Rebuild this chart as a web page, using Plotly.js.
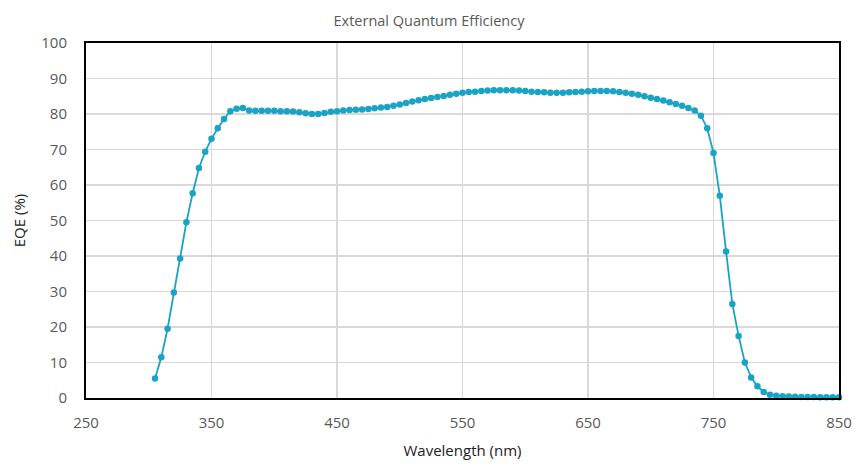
<!DOCTYPE html>
<html>
<head>
<meta charset="utf-8">
<script src="https://cdn.plot.ly/plotly-3.0.1.min.js"></script>
<style>html,body{margin:0;padding:0;background:#fff;}#chart{width:858px;height:466px;}</style>
</head>
<body>
<div id="chart"></div>
<script>
const wavelength = [305,310,315,320,325,330,335,340,345,350,355,360,365,370,375,380,385,390,395,400,405,410,415,420,425,430,435,440,445,450,455,460,465,470,475,480,485,490,495,500,505,510,515,520,525,530,535,540,545,550,555,560,565,570,575,580,585,590,595,600,605,610,615,620,625,630,635,640,645,650,655,660,665,670,675,680,685,690,695,700,705,710,715,720,725,730,735,740,745,750,755,760,765,770,775,780,785,790,795,800,805,810,815,820,825,830,835,840,845,850];
const eqe = [5.5,11.5,19.5,29.7,39.3,49.5,57.7,64.8,69.4,73.0,76.0,78.6,80.8,81.5,81.7,81.0,80.9,80.9,80.9,80.9,80.8,80.8,80.7,80.5,80.2,80.0,80.0,80.3,80.6,80.8,81.0,81.1,81.2,81.3,81.4,81.6,81.8,82.0,82.3,82.7,83.1,83.5,83.9,84.2,84.5,84.8,85.1,85.4,85.7,86.0,86.2,86.3,86.5,86.6,86.7,86.7,86.7,86.7,86.6,86.5,86.3,86.2,86.1,86.0,86.0,86.0,86.1,86.2,86.3,86.4,86.5,86.5,86.5,86.4,86.2,86.0,85.7,85.4,85.0,84.6,84.2,83.8,83.3,82.8,82.3,81.7,81.0,79.5,76.0,69.0,57.0,41.3,26.5,17.5,10.0,5.8,3.3,1.7,0.9,0.6,0.5,0.4,0.35,0.3,0.3,0.25,0.2,0.2,0.2,0.2];
const xTicks = [250,350,450,550,650,750,850];
const yTicks = [0,10,20,30,40,50,60,70,80,90,100];

const font = "'Open Sans', 'Noto Sans', sans-serif";
Plotly.newPlot('chart', [{
  x: wavelength, y: eqe, type: 'scatter', mode: 'lines+markers',
  line: {color: '#1aa3c4', width: 1.8},
  marker: {color: '#1aa3c4', size: 6.5},
  showlegend: false, cliponaxis: false
}], {
  width: 858, height: 466,
  margin: {l: 86, r: 19, t: 43, b: 68},
  paper_bgcolor: '#fff', plot_bgcolor: '#fff',
  title: {text: 'External Quantum Efficiency', font: {family: font, size: 14.5, color: '#595959'}, x: 0.5, xanchor: 'center', y: 0.955, yanchor: 'middle'},
  xaxis: {
    range: [250, 850], tickvals: xTicks, ticktext: xTicks.map(String),
    showgrid: true, gridcolor: '#d9d9d9', gridwidth: 1.5,
    showline: true, linecolor: '#000', linewidth: 2, mirror: true,
    ticks: '', zeroline: false, ticklabelstandoff: 10,
    tickfont: {family: font, size: 15, color: '#595959'},
    title: {text: 'Wavelength (nm)', font: {family: font, size: 15, color: '#222'}, standoff: 14}
  },
  yaxis: {
    range: [0, 100], tickvals: yTicks, ticktext: yTicks.map(String),
    showgrid: true, gridcolor: '#d9d9d9', gridwidth: 1.5,
    showline: true, linecolor: '#000', linewidth: 2, mirror: true,
    ticks: '', zeroline: false, ticklabelstandoff: 14,
    tickfont: {family: font, size: 15, color: '#595959'},
    title: {text: 'EQE (%)', font: {family: font, size: 15, color: '#222'}, standoff: 12}
  }
}, {displayModeBar: false, staticPlot: true});
</script>
</body>
</html>
